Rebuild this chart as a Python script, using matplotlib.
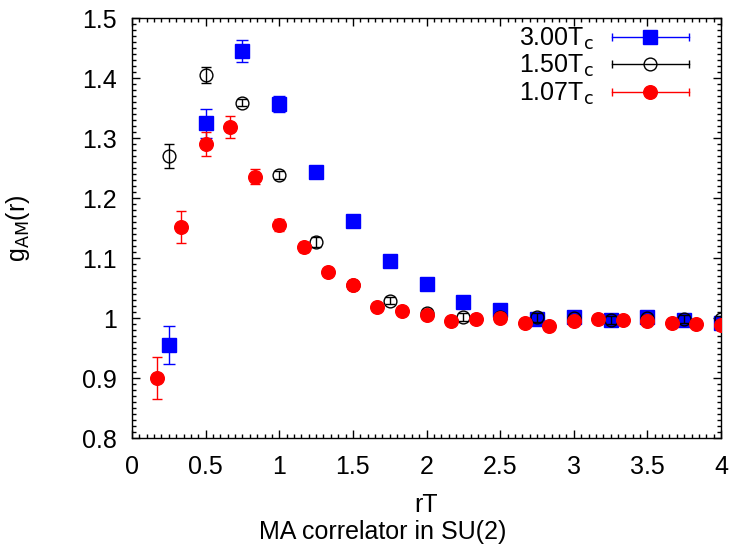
import numpy as np
import matplotlib
matplotlib.use('Agg')
import matplotlib.pyplot as plt
from matplotlib.lines import Line2D
from matplotlib.legend_handler import HandlerBase
from matplotlib.ticker import MultipleLocator, FormatStrFormatter

# data (rT, g_AM(r), error)
x_300 = [0.25, 0.5, 0.75, 1.0, 1.25, 1.5, 1.75, 2.0, 2.25, 2.5, 2.75, 3.0, 3.25, 3.5, 3.75, 4.0]
y_300 = [0.955, 1.325, 1.445, 1.357, 1.243, 1.162, 1.095, 1.057, 1.027, 1.013, 0.999, 1.002, 0.996, 1.002, 0.996, 0.992]
e_300 = [0.031, 0.024, 0.018, 0.014, 0.007, 0.004, 0.004, 0.003, 0.003, 0.003, 0.004, 0.003, 0.003, 0.003, 0.003, 0.003]

x_150 = [0.25, 0.5, 0.75, 1.0, 1.25, 1.5, 1.75, 2.0, 2.25, 2.5, 2.75, 3.0, 3.25, 3.5, 3.75, 4.0]
y_150 = [1.270, 1.405, 1.359, 1.239, 1.127, 1.055, 1.029, 1.009, 1.002, 1.002, 1.001, 0.9995, 0.997, 0.9995, 0.998, 0.998]
e_150 = [0.020, 0.013, 0.006, 0.007, 0.008, 0.006, 0.006, 0.006, 0.007, 0.006, 0.007, 0.006, 0.007, 0.006, 0.007, 0.006]

x_107 = [k / 6 for k in range(1, 25)]
y_107 = [0.900, 1.152, 1.290, 1.319, 1.236, 1.156, 1.119, 1.076, 1.055, 1.019, 1.011, 1.005,
         0.995, 0.998, 0.9995, 0.992, 0.987, 0.9955, 0.998, 0.997, 0.9955, 0.992, 0.990, 0.988]
e_107 = [0.035, 0.027, 0.020, 0.018, 0.013, 0.010, 0.008, 0.005, 0.004, 0.004, 0.004, 0.003,
         0.003, 0.003, 0.003, 0.003, 0.003, 0.003, 0.003, 0.003, 0.003, 0.003, 0.003, 0.003]

labels = [r'3.00T$_\mathrm{c}$', r'1.50T$_\mathrm{c}$', r'1.07T$_\mathrm{c}$']

plt.rcParams['font.family'] = ['Liberation Sans', 'DejaVu Sans']
plt.rcParams['mathtext.default'] = 'regular'
plt.rcParams['font.size'] = 18


# gnuplot style key entry: horizontal bar with end caps and marker in the middle
class CapLineHandler(HandlerBase):
    def create_artists(self, legend, orig_handle, xdescent, ydescent,
                       width, height, fontsize, trans):
        y = height / 2 - ydescent
        x0, x1 = -xdescent, width - xdescent
        c = orig_handle.get_color()
        bar = Line2D([x0, x1], [y, y], color=c, lw=1.0)
        caps = Line2D([x0, x1], [y, y], ls='none', marker='|', ms=6, mew=1.0, color=c)
        mk = Line2D([(x0 + x1) / 2], [y], ls='none', marker=orig_handle.get_marker(),
                    ms=orig_handle.get_markersize(), mfc=orig_handle.get_markerfacecolor(),
                    mec=orig_handle.get_markeredgecolor(), mew=orig_handle.get_markeredgewidth())
        for a in (bar, caps, mk):
            a.set_transform(trans)
        return [bar, caps, mk]


fig = plt.figure(figsize=(7.35, 5.52), dpi=100)
ax = fig.add_axes([0.1796, 0.2065, 0.8014, 0.7605])

ax.errorbar(x_300, y_300, yerr=e_300, fmt='s', ms=10, color='blue', mec='blue',
            ecolor='blue', elinewidth=1, capsize=4, capthick=1, zorder=2)
ax.errorbar(x_150, y_150, yerr=e_150, fmt='o', ms=9.2, color='black', mfc='none', mew=1.0,
            ecolor='black', elinewidth=1, capsize=3.5, capthick=1, zorder=3)
ax.errorbar(x_107, y_107, yerr=e_107, fmt='o', ms=9.8, color='red', mec='red',
            ecolor='red', elinewidth=1, capsize=3.5, capthick=1, zorder=4)

ax.set_xlim(0, 4)
ax.set_ylim(0.8, 1.5)
ax.xaxis.set_major_locator(MultipleLocator(0.5))
ax.xaxis.set_minor_locator(MultipleLocator(0.05))
ax.yaxis.set_major_locator(MultipleLocator(0.1))
ax.yaxis.set_minor_locator(MultipleLocator(0.01))
ax.xaxis.set_major_formatter(FormatStrFormatter('%g'))
ax.yaxis.set_major_formatter(FormatStrFormatter('%g'))
ax.tick_params(which='both', direction='in', top=True, right=True, width=1.0)
ax.tick_params(which='major', length=6)
ax.tick_params(which='minor', length=3)
ax.tick_params(axis='x', pad=12)
ax.tick_params(axis='y', pad=11)
for s in ax.spines.values():
    s.set_linewidth(1.0)

ax.set_xlabel('rT')
ax.xaxis.set_label_coords(0.5, -0.13)
ax.set_ylabel(r'g$_\mathrm{AM}$(r)')
ax.yaxis.set_label_coords(-0.17, 0.5)
fig.text(0.521, 0.036, 'MA correlator in SU(2)', ha='center', va='center', fontsize=18)

proxies = [Line2D([], [], color='blue', marker='s', ms=10, mfc='blue', mec='blue'),
           Line2D([], [], color='black', marker='o', ms=9.2, mfc='none', mec='black', mew=1.0),
           Line2D([], [], color='red', marker='o', ms=9.8, mfc='red', mec='red')]
leg = ax.legend(proxies, labels, handler_map={Line2D: CapLineHandler()},
                loc='upper right', bbox_to_anchor=(0.946, 0.983), markerfirst=False,
                frameon=False, handlelength=3.1, handletextpad=0.7,
                labelspacing=0.06, borderaxespad=0.0, borderpad=0.0)

fig.savefig('out.png', dpi=100)
